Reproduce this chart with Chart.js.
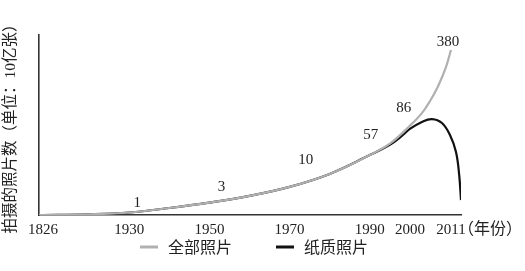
<!DOCTYPE html>
<html>
<head>
<meta charset="utf-8">
<script src="https://cdn.jsdelivr.net/npm/chart.js@4"></script>
<style>
html,body{margin:0;padding:0;background:#fff;}
#wrap{width:525px;height:271px;position:relative;}
</style>
</head>
<body>
<div id="wrap"><canvas id="c" width="525" height="271"></canvas></div>
<script>
// Axis tick labels and where they sit on the (schematic) time axis
const tickLabels = ['1826','1930','1950','1970','1990','2000','2011'];
const tickPositions = [1908.5, 1930, 1950, 1970, 1990, 2000, 2010.25];

// Series: all photos (schematic height)
const allYears  = [1907.5, 1920, 1930, 1940, 1950, 1960, 1970, 1980, 1990, 1995, 2000, 2003, 2005, 2007, 2009, 2010.25];
const allValues = [0, 0.4, 1.4, 3.9, 6.9, 10.6, 15.6, 22.8, 33.3, 39.6, 49.6, 56.6, 63.2, 71.4, 82.2, 91.7];

// Series: paper photos
const paperYears  = [1907.5, 1920, 1930, 1940, 1950, 1960, 1970, 1980, 1990, 1995, 1998, 2000, 2003, 2005.5, 2008, 2010, 2011.5, 2012.3, 2012.75];
const paperValues = [0, 0.4, 1.4, 3.9, 6.9, 10.6, 15.6, 22.8, 33.3, 39.0, 43.9, 47.8, 51.7, 53.3, 51.1, 44.4, 35, 22.2, 8.3];

// Value annotations along the curve
const noteTexts  = ['1', '3', '10', '57', '86', '380'];
const noteYears  = [1932, 1953, 1974, 1990.25, 1998.5, 2009.5];
const noteValues = [6.7, 15.6, 30.6, 44.4, 59.4, 96.1];

const seriesNames = ['全部照片', '纸质照片'];
const axisUnitX = '（年份）';
const axisTitleY = '拍摄的照片数（单位：10亿张）';

const SERIF = "'Liberation Serif', 'Noto Sans CJK SC', serif";
const CJK = "'Noto Sans CJK SC', sans-serif";

const toPts = (xs, ys) => xs.map((x, i) => ({x, y: ys[i]}));

const extras = {
  id: 'extras',
  afterDraw(chart) {
    const ctx = chart.ctx;
    const xs = chart.scales.x, ys = chart.scales.y;
    ctx.save();
    // value notes
    ctx.fillStyle = '#222';
    ctx.font = "15px " + SERIF;
    ctx.textAlign = 'center';
    ctx.textBaseline = 'middle';
    noteTexts.forEach((t, i) => {
      ctx.fillText(t, xs.getPixelForValue(noteYears[i]), ys.getPixelForValue(noteValues[i]));
    });
    // x unit label
    ctx.font = "16px " + CJK;
    ctx.textAlign = 'left';
    ctx.fillText(axisUnitX, chart.chartArea.right - 3, 228);
    // legend
    ctx.font = "16px " + CJK;
    const items = chart.data.datasets;
    const starts = [140, 276];
    items.forEach((ds, i) => {
      const x0 = starts[i];
      ctx.strokeStyle = ds.borderColor;
      ctx.lineWidth = 3;
      ctx.beginPath();
      ctx.moveTo(x0, 247);
      ctx.lineTo(x0 + 18, 247);
      ctx.stroke();
      ctx.fillStyle = '#222';
      ctx.textAlign = 'left';
      ctx.fillText(ds.label, x0 + 28, 247);
    });
    ctx.restore();
  }
};

new Chart(document.getElementById('c'), {
  type: 'line',
  data: {
    datasets: [
      {label: seriesNames[0], data: toPts(allYears, allValues), borderColor: '#b0b0b0', borderWidth: 2.2,
       pointRadius: 0, tension: 0.4, fill: false},
      {label: seriesNames[1], data: toPts(paperYears, paperValues), borderColor: '#111111', borderWidth: 2.2,
       pointRadius: 0, tension: 0.4, fill: false}
    ]
  },
  options: {
    responsive: false,
    animation: false,
    devicePixelRatio: 1,
    layout: {padding: {top: 35, right: 64, bottom: 0, left: 0}},
    plugins: {legend: {display: false}, tooltip: {enabled: false}},
    scales: {
      x: {
        type: 'linear', min: 1907.5, max: 2012.75,
        grid: {display: false, drawTicks: false},
        border: {display: true, color: '#333', width: 1.6},
        afterBuildTicks: s => { s.ticks = tickPositions.map(v => ({value: v})); },
        afterFit: s => { s.height = 56; },
        ticks: {
          autoSkip: false, maxRotation: 0, padding: 6, color: '#222',
          font: {family: SERIF, size: 15},
          callback: (v, i) => tickLabels[i]
        }
      },
      y: {
        min: 0, max: 100,
        grid: {display: false, drawTicks: false},
        border: {display: true, color: '#333', width: 1.6},
        ticks: {display: false},
        afterFit: s => { s.width = 39; },
        title: {display: true, text: axisTitleY, color: '#222', font: {family: SERIF, size: 15.5}, padding: {top: 2, bottom: 0}}
      }
    }
  },
  plugins: [extras]
});
</script>
</body>
</html>
